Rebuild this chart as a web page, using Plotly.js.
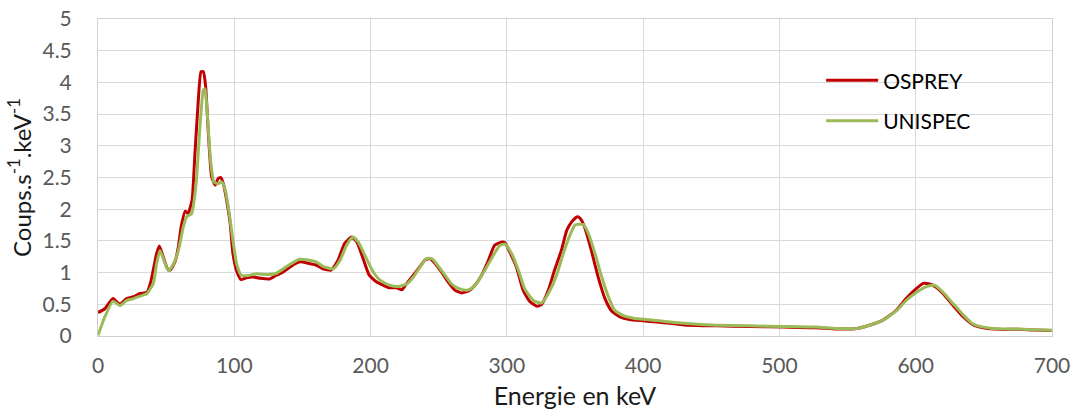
<!DOCTYPE html>
<html><head><meta charset="utf-8">
<script src="https://cdn.plot.ly/plotly-3.0.1.min.js"></script>
<style>html,body{margin:0;padding:0;background:#fff}#chart{width:1072px;height:411px}</style>
</head><body><div id="chart"></div>
<script>
const seriesNames = ["OSPREY", "UNISPEC"];
const seriesColors = ["#C00000", "#9BBB59"];

const ospreyEnergy = [0,5,11,16,21,26,31,36,39,43,45,47.5,51,53,56.5,59,61,64,66,69,71,73.6,75.6,77.3,79,81,83.4,86,88,90,92,94.4,97,99,102,105,109,114,119,126,131,136,141,148,155.5,160,165,171,176,181,186,190,195,199,204.5,209.4,214,219,223,226.5,231.4,236,240,243.6,247,252,257,262,267,272,276.6,281.5,286.4,291,296,298.6,302,307,312,317,322,325.5,330.4,335,340,344,347.6,351.7,354,357,362,367,372,377,383,390,400,410,420,430,454,478,503,527,542,557,566,576,586,593,600.6,605.5,610,615,620,627.5,635,642,649.5,662,674,686,700];
const ospreyCounts = [0.37,0.43,0.59,0.5,0.59,0.62,0.67,0.69,0.88,1.30,1.42,1.27,1.06,1.04,1.17,1.41,1.72,1.97,1.93,2.14,2.83,3.72,4.17,4.17,3.93,3.19,2.51,2.38,2.48,2.5,2.4,2.14,1.77,1.30,1.01,0.89,0.92,0.93,0.91,0.9,0.96,1.01,1.09,1.17,1.14,1.12,1.06,1.04,1.19,1.46,1.56,1.48,1.19,0.96,0.85,0.8,0.76,0.76,0.73,0.83,0.96,1.09,1.2,1.22,1.15,1.01,0.85,0.72,0.68,0.71,0.8,0.96,1.19,1.43,1.48,1.47,1.33,1.09,0.72,0.54,0.47,0.5,0.72,1.04,1.35,1.67,1.8,1.88,1.85,1.72,1.35,0.93,0.59,0.39,0.3,0.26,0.24,0.22,0.2,0.175,0.16,0.15,0.14,0.13,0.11,0.12,0.17,0.25,0.41,0.59,0.75,0.83,0.82,0.77,0.67,0.48,0.3,0.18,0.13,0.105,0.105,0.095,0.085];

const unispecEnergy = [0,5,11,16,21,26,31,36,40.6,43,45.5,48.4,51.6,55,59,62.6,65,68.7,72,74.8,77.3,78.5,80,82.6,85,88,90.7,93,95.6,99,101.7,105,109,116,124,131,138,148,160,165,172.6,177.5,182.4,187,191,197,202,207,214,220.4,226.5,231.4,236,241,245,249.7,254.6,259.5,264.4,270.5,275.4,280.3,285,290,295,298.6,303.5,308.4,313,319.4,325.5,330.4,336.5,341.4,346.3,350,356,359.8,364.7,369.6,374.5,379,385.5,393,402.6,412,420,430,454,478,503,527,542,557,566,576,586,593,600.6,608,614,620,627.5,635,642,649.5,662,674,686,700];
const unispecCounts = [0.01,0.3,0.55,0.48,0.56,0.59,0.63,0.67,0.83,1.14,1.35,1.19,1.03,1.12,1.35,1.72,1.88,1.93,2.41,3.3,3.88,3.9,3.56,2.77,2.43,2.4,2.43,2.33,2.04,1.51,1.14,0.96,0.95,0.98,0.97,0.99,1.09,1.21,1.17,1.1,1.06,1.19,1.43,1.56,1.48,1.22,1.01,0.88,0.8,0.78,0.82,0.93,1.08,1.22,1.22,1.1,0.96,0.82,0.75,0.72,0.77,0.91,1.08,1.27,1.43,1.45,1.3,1.04,0.75,0.56,0.52,0.67,0.96,1.3,1.59,1.75,1.76,1.62,1.3,0.93,0.62,0.41,0.32,0.28,0.26,0.24,0.22,0.2,0.17,0.16,0.15,0.14,0.12,0.12,0.17,0.25,0.40,0.56,0.69,0.78,0.8,0.69,0.51,0.33,0.19,0.14,0.11,0.11,0.1,0.09];

const xTickVals = [0,100,200,300,400,500,600,700];
const yTickVals = [0,0.5,1,1.5,2,2.5,3,3.5,4,4.5,5];
const yTickText = ["0","0.5","1","1.5","2","2.5","3","3.5","4","4.5","5"];
const xTitle = "Energie en keV";
const yTitle = "Coups.s<sup>-1</sup>.keV<sup>-1</sup>";

const FONT = "Lato, 'Open Sans', sans-serif";

const traces = [
  {x: ospreyEnergy, y: ospreyCounts, name: seriesNames[0], legendgroup: "a",
   type: "scatter", mode: "lines", line: {color: seriesColors[0], width: 3, shape: "spline", smoothing: 0.5}},
  {x: unispecEnergy, y: unispecCounts, name: seriesNames[1], legendgroup: "b",
   type: "scatter", mode: "lines", line: {color: seriesColors[1], width: 3, shape: "spline", smoothing: 0.5}}
];

const layout = {
  width: 1072, height: 411,
  margin: {l: 98, r: 20, t: 19, b: 75, pad: 0},
  paper_bgcolor: "#fff", plot_bgcolor: "#fff",
  font: {family: FONT, size: 20, color: "#595959"},
  showlegend: true,
  legend: {x: 0.758, y: 0.87, xanchor: "left", yanchor: "top", bgcolor: "rgba(0,0,0,0)",
           font: {family: FONT, size: 21, color: "#000"}, tracegroupgap: 10, itemwidth: 52},
  xaxis: {range: [0, 700], tickvals: xTickVals, ticks: "", showgrid: true, gridcolor: "#d9d9d9", gridwidth: 1,
          zeroline: false, showline: true, linecolor: "#d0d0d0", linewidth: 1, mirror: true,
          ticklabelstandoff: 11, tickfont: {family: FONT, size: 21, color: "#595959"},
          title: {text: xTitle, font: {family: FONT, size: 25, color: "#1a1a1a"}, standoff: 11}, fixedrange: true},
  yaxis: {range: [0, 5], tickvals: yTickVals, ticktext: yTickText, ticks: "", showgrid: true, gridcolor: "#d9d9d9", gridwidth: 1,
          zeroline: false, showline: true, linecolor: "#d0d0d0", linewidth: 1, mirror: true,
          ticklabelstandoff: 21, tickfont: {family: FONT, size: 21, color: "#595959"},
          title: {text: yTitle, font: {family: FONT, size: 24, color: "#1a1a1a"}, standoff: 4}, fixedrange: true}
};

Plotly.newPlot("chart", traces, layout, {staticPlot: true, displayModeBar: false});
</script>
</body></html>
